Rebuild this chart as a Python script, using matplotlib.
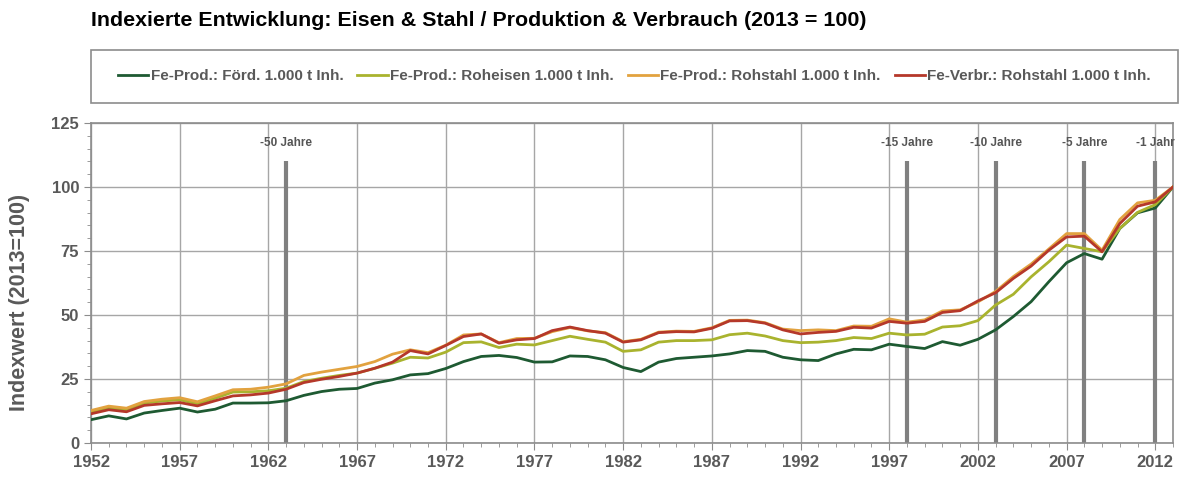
import matplotlib
matplotlib.use("Agg")
import matplotlib.pyplot as plt
from matplotlib.patches import Rectangle
from matplotlib.ticker import MultipleLocator, FixedLocator

plt.rcParams['font.family'] = ['Liberation Sans', 'DejaVu Sans']

# Data
years = list(range(1952, 2014))

foerd = [9.1, 10.6, 9.4, 11.7, 12.7, 13.6, 12.1, 13.2, 15.6, 15.6,
         15.7, 16.5, 18.6, 20.1, 21.0, 21.3, 23.4, 24.7, 26.6, 27.1,
         29.1, 31.8, 33.8, 34.2, 33.4, 31.6, 31.7, 34.0, 33.8, 32.5,
         29.5, 27.9, 31.6, 33.0, 33.5, 34.0, 34.8, 36.1, 35.8, 33.5,
         32.5, 32.2, 34.8, 36.6, 36.4, 38.6, 37.7, 36.9, 39.6, 38.2,
         40.5, 44.2, 49.4, 55.2, 63.0, 70.4, 74.0, 71.8, 83.8, 89.9,
         91.8, 100.0]

roheisen = [12.0, 13.6, 13.0, 15.6, 16.4, 16.9, 15.3, 17.5, 19.9, 20.0,
            20.4, 21.4, 24.0, 25.3, 26.4, 27.3, 29.2, 31.2, 33.5, 33.2,
            35.5, 39.2, 39.5, 37.3, 38.6, 38.3, 40.0, 41.7, 40.5, 39.4,
            35.8, 36.4, 39.4, 40.0, 40.0, 40.3, 42.3, 42.9, 41.8, 40.0,
            39.2, 39.4, 40.0, 41.2, 40.8, 42.9, 42.2, 42.5, 45.3, 45.8,
            47.8, 53.9, 58.1, 64.9, 70.8, 77.3, 76.0, 74.7, 83.8, 90.1,
            93.1, 100.0]

rohstahl = [12.7, 14.4, 13.6, 16.2, 17.1, 17.7, 16.1, 18.4, 20.8, 21.0,
            21.8, 23.1, 26.4, 27.7, 28.8, 29.9, 31.8, 34.7, 36.4, 35.3,
            38.2, 42.2, 42.6, 39.2, 40.8, 40.9, 43.5, 45.1, 43.8, 43.1,
            39.6, 40.5, 43.3, 43.7, 43.6, 45.0, 47.9, 48.0, 47.0, 44.5,
            43.9, 44.2, 43.9, 45.7, 45.6, 48.5, 47.2, 48.1, 51.6, 52.0,
            55.1, 59.2, 65.0, 69.9, 75.8, 81.8, 81.8, 75.3, 87.3, 93.8,
            94.8, 100.0]

verbr = [11.4, 13.0, 12.2, 14.7, 15.3, 15.8, 14.5, 16.5, 18.4, 18.8,
         19.5, 21.0, 23.6, 24.9, 26.0, 27.3, 29.2, 31.6, 36.1, 34.8,
         38.1, 41.6, 42.6, 39.0, 40.3, 40.8, 43.9, 45.3, 43.9, 42.9,
         39.4, 40.3, 43.1, 43.5, 43.4, 44.8, 47.7, 47.8, 46.8, 44.2,
         42.6, 43.2, 43.6, 45.2, 44.9, 47.5, 46.8, 47.5, 51.0, 51.7,
         55.5, 58.7, 64.3, 69.1, 75.3, 80.5, 80.8, 74.7, 85.7, 92.5,
         94.2, 100.0]

labels = ["Fe-Prod.: Förd. 1.000 t Inh.", "Fe-Prod.: Roheisen 1.000 t Inh.",
          "Fe-Prod.: Rohstahl 1.000 t Inh.", "Fe-Verbr.: Rohstahl 1.000 t Inh."]
colors = ["#1e5a32", "#a9b32e", "#e2a23f", "#b5382a"]

year_ticks = list(range(1952, 2014, 5))
marker_years = [1963, 1998, 2003, 2008, 2012]
marker_labels = ["-50 Jahre", "-15 Jahre", "-10 Jahre", "-5 Jahre", "-1 Jahr"]

fig = plt.figure(figsize=(11.79, 4.79), dpi=100)
ax = fig.add_axes([91 / 1179, 1 - 443 / 479, (1173 - 91) / 1179, (443 - 123) / 479])

# marker lines behind data
for y, t in zip(marker_years, marker_labels):
    ax.plot([y, y], [0, 110], color="#808080", lw=3, zorder=2, solid_capstyle="butt")
    ax.text(y, 117, t, ha="center", va="center", fontsize=8.5, fontweight="bold",
            color="#555555")

series = [foerd, roheisen, rohstahl, verbr]
for s, c, l in zip(series, colors, labels):
    ax.plot(years, s, color=c, lw=2, label=l, zorder=3)

ax.set_xlim(1952, 2013)
ax.set_ylim(0, 125)
ax.xaxis.set_major_locator(FixedLocator(year_ticks))
ax.xaxis.set_minor_locator(MultipleLocator(1))
ax.yaxis.set_major_locator(MultipleLocator(25))
ax.yaxis.set_minor_locator(MultipleLocator(5))
ax.grid(True, which="major", color="#a6a6a6", lw=1, zorder=0)
ax.set_axisbelow(True)

for sp in ax.spines.values():
    sp.set_color("#8c8c8c")
    sp.set_linewidth(1.2)

ax.tick_params(axis="both", which="major", length=5, color="#8c8c8c",
               labelsize=12, labelcolor="#595959", direction="out")
ax.tick_params(axis="both", which="minor", length=3, color="#8c8c8c", direction="out")
for lab in ax.get_xticklabels() + ax.get_yticklabels():
    lab.set_fontweight("bold")

ax.set_ylabel("Indexwert (2013=100)", fontsize=15.5, fontweight="bold", color="#595959")
ax.yaxis.set_label_coords(-0.056, 0.44)

fig.text(91 / 1179, 1 - 20 / 479, "Indexierte Entwicklung: Eisen & Stahl / Produktion & Verbrauch (2013 = 100)",
         fontsize=15.4, fontweight="bold", color="#000000", ha="left", va="center")

# legend box drawn separately so its size matches the reference
box = (91 / 1179, 1 - 103 / 479, (1178 - 91) / 1179, 53 / 479)
fig.patches.append(Rectangle(box[:2], box[2], box[3], transform=fig.transFigure,
                             fill=False, edgecolor="#8c8c8c", lw=1.2))
leg = fig.legend(loc="center", bbox_to_anchor=box, ncol=4, frameon=False,
                 fontsize=11, handlelength=2.0, handletextpad=0.15,
                 columnspacing=0.9, borderaxespad=0)
for t in leg.get_texts():
    t.set_color("#595959")
    t.set_fontweight("bold")

fig.savefig("out.png", dpi=100)
